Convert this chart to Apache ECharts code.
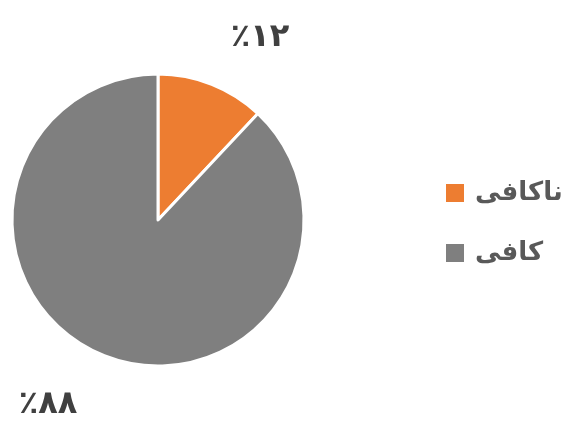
<!DOCTYPE html>
<html>
<head>
<meta charset="utf-8">
<script src="https://cdn.jsdelivr.net/npm/echarts@6/dist/echarts.min.js"></script>
<style>
  html, body { margin: 0; padding: 0; background: #fff; }
  #chart { width: 567px; height: 421px; }
</style>
</head>
<body>
<div id="chart"></div>
<script>
// data
const categories = ['ناکافی', 'کافی']
const values = [12, 88]
const valueLabels = ['٪۱۲', '٪۸۸']
const colors = ['#ED7D31', '#7F7F7F']

// where each percent label sits (pixels)
const labelSpots = [[260, 38], [48, 405]]

let chart = echarts.init(document.getElementById('chart'))
chart.setOption({
  animation: false,
  color: colors,
  legend: {
    orient: 'vertical',
    left: 446,
    top: 180,
    padding: 0,
    align: 'left',
    itemWidth: 18,
    itemHeight: 18,
    itemGap: 34,
    icon: 'rect',
    itemStyle: { borderWidth: 0 },
    data: categories,
    textStyle: {
      fontFamily: 'DejaVu Sans',
      fontWeight: 'bold',
      fontSize: 26,
      color: '#595959',
      padding: [6, 0, 0, 6]
    }
  },
  series: [
    {
      type: 'pie',
      center: [158, 220],
      radius: 146,
      startAngle: 90,
      clockwise: true,
      data: categories.map((c, i) => ({ name: c, value: values[i] })),
      itemStyle: {
        borderColor: '#fff',
        borderWidth: 3
      },
      label: {
        show: true,
        overflow: 'none',
        formatter: p => valueLabels[p.dataIndex],
        fontFamily: 'DejaVu Sans',
        fontWeight: 'bold',
        fontSize: 32,
        color: '#404040'
      },
      labelLine: { show: false },
      labelLayout: p => ({
        x: labelSpots[p.dataIndex][0],
        y: labelSpots[p.dataIndex][1],
        align: 'center',
        verticalAlign: 'middle'
      })
    }
  ]
})
</script>
</body>
</html>
